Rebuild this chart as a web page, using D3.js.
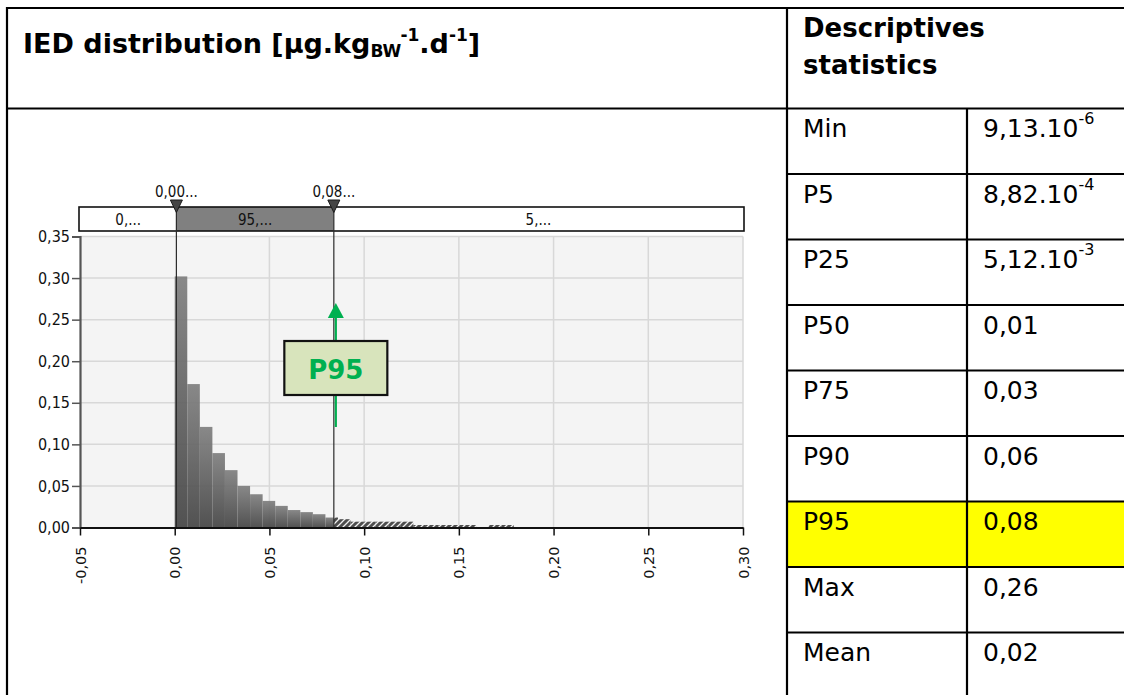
<!DOCTYPE html>
<html>
<head>
<meta charset="utf-8">
<script src="https://cdn.jsdelivr.net/npm/d3@7"></script>
<style>
  html, body { margin: 0; padding: 0; background: #fff; }
  svg { display: block; }
</style>
</head>
<body>
<svg id="page" width="1124" height="695"></svg>
<script>
// ---- Histogram of IED (relative frequency per bin) ----
const binWidth = 0.00663;
const frequencies = [0.302, 0.1725, 0.121, 0.0895, 0.069, 0.050, 0.040, 0.032, 0.026, 0.021,
                     0.0185, 0.016, 0.012, 0.010, 0.007, 0.007, 0.007, 0.007, 0.007, 0.003,
                     0.003, 0.003, 0.003, 0.003, 0, 0.003, 0.003];

// ---- Axes ----
const xTicks = [-0.05, 0, 0.05, 0.10, 0.15, 0.20, 0.25, 0.30];
const yTicks = [0, 0.05, 0.10, 0.15, 0.20, 0.25, 0.30, 0.35];

// ---- Percentile band above the plot ----
const p5 = 0.000882;
const p95 = 0.084;
const markerValues = [p5, p95];
const markerLabels = ["0,00...", "0,08..."];
const bandLabels = ["0,...", "95,...", "5,..."];
const annotationText = "P95";

// ---- Descriptive statistics table ----
const titleParts = ["IED distribution [µg.kg", "BW", "-1", ".d", "-1", "]"];
const statsHeader = ["Descriptives", "statistics"];
const statNames = ["Min", "P5", "P25", "P50", "P75", "P90", "P95", "Max", "Mean"];
const statMantissa = ["9,13.10", "8,82.10", "5,12.10", "0,01", "0,03", "0,06", "0,08", "0,26", "0,02"];
const statExponent = ["-6", "-4", "-3", "", "", "", "", "", ""];
const highlighted = "P95";

const svg = d3.select("#page");
const FONT = "'DejaVu Sans', Verdana, sans-serif";
const COND = "'DejaVu Sans Condensed', 'Liberation Sans Narrow', 'DejaVu Sans', sans-serif";

const fmt = d3.formatLocale({ decimal: ",", thousands: " ", grouping: [3], currency: ["", ""], minus: "-" }).format(".2f");

// ================= table frame =================
const tableLeft = 7, tableTop = 8, splitX = 787, colX = 967, headerBottom = 108.5;
const rowScale = d3.scaleBand().domain(statNames).range([headerBottom, headerBottom + 65.5 * statNames.length]);

// highlighted row
svg.append("rect")
  .attr("x", splitX).attr("y", rowScale(highlighted))
  .attr("width", 1124 - splitX).attr("height", rowScale.bandwidth())
  .attr("fill", "#ffff00");

const frame = svg.append("g").attr("stroke", "#000").attr("stroke-width", 2.2);
frame.append("line").attr("x1", tableLeft).attr("x2", tableLeft).attr("y1", tableTop - 1).attr("y2", 695);
frame.append("line").attr("x1", tableLeft - 1).attr("x2", 1124).attr("y1", tableTop).attr("y2", tableTop);
frame.append("line").attr("x1", tableLeft - 1).attr("x2", 1124).attr("y1", headerBottom).attr("y2", headerBottom);
frame.append("line").attr("x1", splitX).attr("x2", splitX).attr("y1", tableTop).attr("y2", 695);
frame.append("line").attr("x1", colX).attr("x2", colX).attr("y1", headerBottom).attr("y2", 695);
frame.selectAll("line.row").data(statNames.slice(1)).join("line")
  .attr("class", "row")
  .attr("x1", splitX).attr("x2", 1124)
  .attr("y1", d => rowScale(d)).attr("y2", d => rowScale(d));

// title with subscript / superscripts
const title = svg.append("text")
  .attr("x", 23).attr("y", 53)
  .attr("font-family", FONT).attr("font-weight", "bold").attr("font-size", 27).attr("fill", "#000");
title.append("tspan").text(titleParts[0]);
title.append("tspan").attr("font-size", 17).attr("dy", 4).text(titleParts[1]);
title.append("tspan").attr("font-size", 17).attr("dy", -16).text(titleParts[2]);
title.append("tspan").attr("dy", 12).text(titleParts[3]);
title.append("tspan").attr("font-size", 17).attr("dy", -12).text(titleParts[4]);
title.append("tspan").attr("dy", 12).text(titleParts[5]);

// statistics header
svg.append("g").selectAll("text").data(statsHeader).join("text")
  .attr("x", 803).attr("y", (d, i) => 36.5 + i * 37)
  .attr("font-family", FONT).attr("font-weight", "bold").attr("font-size", 26)
  .text(d => d);

// statistics rows
const rows = svg.append("g").attr("font-family", FONT).attr("font-size", 25).attr("fill", "#000");
rows.selectAll("text.name").data(statNames).join("text")
  .attr("class", "name")
  .attr("x", 803).attr("y", d => rowScale(d) + 28.5)
  .text(d => d);
const vals = rows.selectAll("text.val").data(statNames).join("text")
  .attr("class", "val")
  .attr("x", 983).attr("y", d => rowScale(d) + 28.5);
vals.append("tspan").text((d, i) => statMantissa[i]);
vals.append("tspan").attr("font-size", 16).attr("dy", -13).text((d, i) => statExponent[i]);

// ================= histogram =================
const x = d3.scaleLinear().domain([-0.05, 0.30]).range([80, 743]);
const y = d3.scaleLinear().domain([0, 0.35]).range([527.5, 236.5]);

const defs = svg.append("defs");
const grad = defs.append("linearGradient").attr("id", "barShade")
  .attr("x1", 0).attr("y1", 0).attr("x2", 0).attr("y2", 1);
grad.append("stop").attr("offset", 0).attr("stop-color", "#7f7f7f");
grad.append("stop").attr("offset", 1).attr("stop-color", "#444444");

const hatch = defs.append("pattern").attr("id", "hatch")
  .attr("patternUnits", "userSpaceOnUse").attr("width", 6).attr("height", 6);
hatch.append("rect").attr("width", 6).attr("height", 6).attr("fill", "#4e4e4e");
hatch.append("path").attr("d", "M-1,7 L7,-1 M-4,4 L4,-4 M2,10 L10,2")
  .attr("stroke", "#f2f2f2").attr("stroke-width", 1.3);

// plot background
svg.append("rect")
  .attr("x", x(-0.05)).attr("y", y(0.35))
  .attr("width", x(0.30) - x(-0.05)).attr("height", y(0) - y(0.35))
  .attr("fill", "#f4f4f4");

// grid
const grid = svg.append("g").attr("stroke", "#d8d8d8").attr("stroke-width", 1.5);
grid.selectAll("line.gx").data(xTicks.filter(v => v > 0)).join("line")
  .attr("class", "gx")
  .attr("x1", d => x(d)).attr("x2", d => x(d))
  .attr("y1", y(0.35)).attr("y2", y(0));
grid.selectAll("line.gy").data(yTicks.filter(v => v > 0)).join("line")
  .attr("class", "gy")
  .attr("x1", x(-0.05)).attr("x2", x(0.30))
  .attr("y1", d => y(d)).attr("y2", d => y(d));

// bars: solid inside [P5, P95], hatched beyond P95
const bins = frequencies.map((f, i) => ({ lo: i * binWidth, hi: (i + 1) * binWidth, f }));
const solid = bins.filter(b => b.lo < p95 && b.f > 0);
const tail = bins.filter(b => b.hi > p95 && b.f > 0);

svg.append("g").selectAll("rect").data(solid).join("rect")
  .attr("x", d => x(d.lo))
  .attr("width", d => x(Math.min(d.hi, p95)) - x(d.lo))
  .attr("y", d => y(d.f))
  .attr("height", d => y(0) - y(d.f))
  .attr("fill", "url(#barShade)")
  .attr("fill-opacity", 0.92);

svg.append("g").selectAll("rect").data(tail).join("rect")
  .attr("x", d => x(Math.max(d.lo, p95)))
  .attr("width", d => x(d.hi) - x(Math.max(d.lo, p95)))
  .attr("y", d => y(d.f))
  .attr("height", d => y(0) - y(d.f))
  .attr("fill", "url(#hatch)");

// percentile band
const bandTop = 207, bandBottom = 231;
const bandEdges = [-0.05, p5, p95, 0.30];
const band = svg.append("g");
band.selectAll("rect").data(bandLabels).join("rect")
  .attr("x", (d, i) => x(bandEdges[i]))
  .attr("width", (d, i) => x(bandEdges[i + 1]) - x(bandEdges[i]))
  .attr("y", bandTop).attr("height", bandBottom - bandTop)
  .attr("fill", (d, i) => i === 1 ? "#808080" : "#ffffff");
band.append("rect")
  .attr("x", x(-0.05) - 1).attr("y", bandTop)
  .attr("width", x(0.30) - x(-0.05) + 2).attr("height", bandBottom - bandTop)
  .attr("fill", "none").attr("stroke", "#111").attr("stroke-width", 1.6);
band.selectAll("text").data(bandLabels).join("text")
  .attr("x", (d, i) => (x(bandEdges[i]) + x(bandEdges[i + 1])) / 2)
  .attr("y", 224.5)
  .attr("text-anchor", "middle")
  .attr("font-family", COND).attr("font-size", 15).attr("fill", "#111")
  .text(d => d);

// marker lines, triangles and labels
svg.append("g").selectAll("line").data(markerValues).join("line")
  .attr("x1", d => x(d)).attr("x2", d => x(d))
  .attr("y1", bandTop).attr("y2", y(0))
  .attr("stroke", "#2a2a2a").attr("stroke-width", 1.2);
svg.append("g").selectAll("path").data(markerValues).join("path")
  .attr("d", d => `M${x(d) - 6},200 L${x(d) + 6},200 L${x(d)},212.5 Z`)
  .attr("fill", "#454545").attr("stroke", "#1a1a1a").attr("stroke-width", 1);
svg.append("g").selectAll("text").data(markerValues).join("text")
  .attr("x", d => x(d)).attr("y", 196.5)
  .attr("text-anchor", "middle")
  .attr("font-family", COND).attr("font-size", 15).attr("fill", "#111")
  .text((d, i) => markerLabels[i]);

// y axis
const yAxis = svg.append("g")
  .attr("transform", `translate(${x(-0.05)},0)`)
  .call(d3.axisLeft(y).tickValues(yTicks).tickFormat(fmt).tickSize(8).tickPadding(2));
yAxis.select(".domain").attr("stroke", "#555").attr("stroke-width", 2.2);
yAxis.selectAll(".tick line").attr("stroke", "#555").attr("stroke-width", 1.5);
yAxis.selectAll(".tick text")
  .attr("font-family", COND).attr("font-size", 16).attr("fill", "#111");

// x axis
const xAxis = svg.append("g")
  .attr("transform", `translate(0,${y(0)})`)
  .call(d3.axisBottom(x).tickValues(xTicks).tickFormat(fmt).tickSizeInner(8).tickSizeOuter(0));
xAxis.select(".domain").attr("stroke", "#111").attr("stroke-width", 2.2);
xAxis.selectAll(".tick line").attr("stroke", "#111").attr("stroke-width", 1.5);
xAxis.selectAll(".tick text")
  .attr("font-family", FONT).attr("font-size", 14.5).attr("fill", "#111")
  .attr("text-anchor", "end")
  .attr("x", 0).attr("y", 0).attr("dy", "0.35em")
  .attr("transform", "translate(0,19) rotate(-90)");

// P95 annotation: arrow and label box
const ax = x(p95) + 2;
const note = svg.append("g");
note.append("line")
  .attr("x1", ax).attr("x2", ax).attr("y1", 427).attr("y2", 316)
  .attr("stroke", "#00b050").attr("stroke-width", 2.2);
note.append("path")
  .attr("d", `M${ax - 8},318 L${ax + 8},318 L${ax},303 Z`)
  .attr("fill", "#00b050");
note.append("rect")
  .attr("x", ax - 51.5).attr("y", 341).attr("width", 103).attr("height", 54)
  .attr("fill", "#d8e4bc").attr("stroke", "#111").attr("stroke-width", 2.2);
note.append("text")
  .attr("x", ax).attr("y", 379)
  .attr("text-anchor", "middle")
  .attr("font-family", FONT).attr("font-weight", "bold").attr("font-size", 26)
  .attr("fill", "#00b050")
  .text(annotationText);
</script>
</body>
</html>
